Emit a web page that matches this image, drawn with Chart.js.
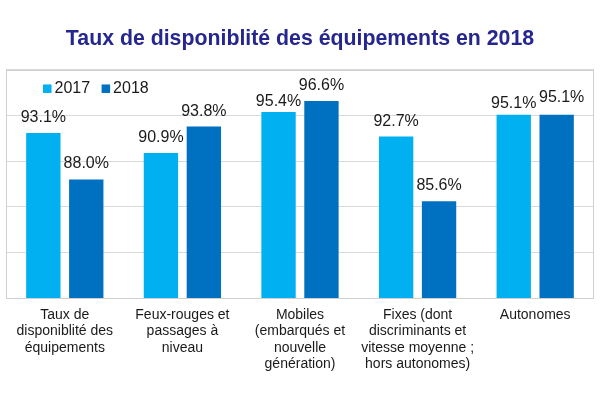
<!DOCTYPE html>
<html>
<head>
<meta charset="utf-8">
<script src="https://cdn.jsdelivr.net/npm/chart.js@4.4.1/dist/chart.umd.min.js"></script>
<style>
  html, body { margin: 0; padding: 0; background: #ffffff; }
  #wrap { width: 600px; height: 400px; position: relative; }
</style>
</head>
<body>
<div id="wrap"><canvas id="c" width="600" height="400"></canvas></div>
<script>
const categories = [
  ["Taux de", "disponiblité des", "équipements"],
  ["Feux-rouges et", "passages à", "niveau"],
  ["Mobiles", "(embarqués et", "nouvelle", "génération)"],
  ["Fixes (dont", "discriminants et", "vitesse moyenne ;", "hors autonomes)"],
  ["Autonomes"]
];
const seriesNames = ["2017", "2018"];
const values2017 = [93.1, 90.9, 95.4, 92.7, 95.1];
const values2018 = [88.0, 93.8, 96.6, 85.6, 95.1];
const yTicks = [75, 80, 85, 90, 95, 100];

const FONT = "'Liberation Sans', Arial, Helvetica, sans-serif";

const boxPlugin = {
  id: 'plotBox',
  beforeDatasetsDraw(chart) {
    const a = chart.chartArea, ctx = chart.ctx;
    ctx.save();
    ctx.strokeStyle = '#D0D0D0';
    ctx.lineWidth = 1;
    ctx.strokeRect(Math.round(a.left) + 0.5, Math.round(a.top) + 0.5,
                   Math.round(a.right - a.left) - 1, Math.round(a.bottom - a.top));
    ctx.restore();
  }
};

const valueLabels = {
  id: 'valueLabels',
  afterDatasetsDraw(chart, args, opts) {
    const ctx = chart.ctx;
    const nudge = opts.nudge || {};
    ctx.save();
    ctx.font = '16px ' + FONT;
    ctx.fillStyle = '#1a1a1a';
    ctx.textAlign = 'center';
    ctx.textBaseline = 'alphabetic';
    chart.data.datasets.forEach((ds, di) => {
      const meta = chart.getDatasetMeta(di);
      meta.data.forEach((el, i) => {
        const n = nudge[di + ':' + i] || [0, 0];
        ctx.fillText(ds.data[i].toFixed(1) + '%', el.x + n[0], el.y - 11 + n[1]);
      });
    });
    ctx.restore();
  }
};

const insideLegend = {
  id: 'insideLegend',
  afterDraw(chart) {
    const ctx = chart.ctx, a = chart.chartArea;
    ctx.save();
    ctx.font = '16px ' + FONT;
    ctx.textBaseline = 'alphabetic';
    ctx.textAlign = 'left';
    let x = a.left + 37;
    const baseY = a.top + 23;
    chart.data.datasets.forEach((ds) => {
      ctx.fillStyle = ds.backgroundColor;
      ctx.fillRect(x, baseY - 8.5, 8.5, 8.5);
      x += 11.5;
      ctx.fillStyle = '#1a1a1a';
      ctx.fillText(ds.label, x, baseY);
      x += ctx.measureText(ds.label).width + 11.5;
    });
    ctx.restore();
  }
};

new Chart(document.getElementById('c'), {
  type: 'bar',
  data: {
    labels: categories,
    datasets: [
      { label: seriesNames[0], data: values2017, backgroundColor: '#00B0F0',
        categoryPercentage: 0.73, barPercentage: 0.80 },
      { label: seriesNames[1], data: values2018, backgroundColor: '#0070C0',
        categoryPercentage: 0.73, barPercentage: 0.80 }
    ]
  },
  options: {
    responsive: false,
    animation: false,
    layout: { padding: { left: 6, right: 6, top: 0, bottom: 0 } },
    plugins: {
      legend: { display: false },
      tooltip: { enabled: false },
      title: {
        display: true,
        text: 'Taux de disponiblité des équipements en 2018',
        color: '#25268E',
        font: { family: FONT, size: 21.3, weight: 'bold', lineHeight: 1.2 },
        padding: { top: 26.7, bottom: 17.7 }
      },
      valueLabels: {
        nudge: { '0:2': [0, 5.5], '0:4': [0, 4], '1:4': [5, -2] }
      }
    },
    scales: {
      x: {
        grid: { display: false, drawTicks: false },
        border: { display: false },
        ticks: {
          color: '#1a1a1a',
          font: { family: FONT, size: 14, lineHeight: 1.18 },
          padding: 8.7,
          maxRotation: 0,
          autoSkip: false
        },
        afterFit(scale) { scale.height = 102; }
      },
      y: {
        min: yTicks[0],
        max: yTicks[yTicks.length - 1],
        afterBuildTicks(scale) { scale.ticks = yTicks.map(v => ({ value: v })); },
        ticks: { display: false },
        grid: { color: '#D9D9D9', drawTicks: false, lineWidth: 1 },
        border: { display: false }
      }
    }
  },
  plugins: [boxPlugin, valueLabels, insideLegend]
});
</script>
</body>
</html>
